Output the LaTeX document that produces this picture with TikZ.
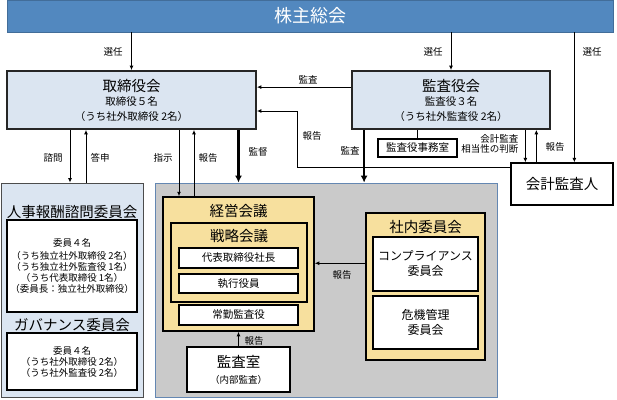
\documentclass[tikz,border=0pt]{standalone}
\usepackage{fontspec}
\setmainfont{Noto Sans CJK JP}
\usetikzlibrary{arrows.meta}
\definecolor{barblue}{RGB}{82,136,191}
\definecolor{boxblue}{RGB}{219,229,241}
\definecolor{boxyellow}{RGB}{247,224,158}
\definecolor{boxgray}{RGB}{202,202,202}
\definecolor{edgeblue}{RGB}{100,135,178}
\tikzset{
  >={Latex[length=4.5pt,width=4pt]},
  box/.style={rectangle, inner sep=0pt},
  bluebox/.style={box, draw=black!85, line width=1.8pt, fill=boxblue},
  iinbox/.style={box, draw=black!70, line width=0.8pt, fill=boxblue},
  whitebox/.style={box, draw=black, line width=1.3pt, fill=white},
  yellowbox/.style={box, draw=black, line width=1.5pt, fill=boxyellow},
  graybox/.style={box, draw=edgeblue, line width=0.8pt, fill=boxgray},
  titletext/.style={font=\fontsize{14.5}{17}\selectfont},
  midtext/.style={font=\fontsize{12}{15}\selectfont, align=center},
  subtext/.style={font=\fontsize{10.5}{12}\selectfont},
  tinytext/.style={font=\fontsize{9.5}{11}\selectfont, align=center},
  lbl/.style={font=\fontsize{9.5}{11}\selectfont, align=right},
  arr/.style={->, line width=1pt},
  thickarr/.style={-{Latex[length=7pt,width=7pt]}, line width=2.2pt},
}
\begin{document}
\begin{tikzpicture}[x=1pt,y=-1pt]
\useasboundingbox (0,0) rectangle (617,399);

% 株主総会
\node[box, fill=barblue, draw=barblue!80!black, line width=0.6pt,
      minimum width=606pt, minimum height=32pt,
      font=\fontsize{18}{20}\selectfont, text=white] (kabu) at (310,16) {株主総会};

% 取締役会・監査役会
\node[bluebox, minimum width=249pt, minimum height=58pt] (tori) at (131.5,100) {};
\node[titletext] (toriT) at ([yshift=-16pt]tori.north) {取締役会};
\node[subtext] (toriA) at ([yshift=-31pt]tori.north) {取締役５名};
\node[subtext] (toriB) at ([yshift=-46pt]tori.north) {（うち社外取締役 2名）};

\node[bluebox, minimum width=198pt, minimum height=58pt] (kansa) at (451,100) {};
\node[titletext] (kansaT) at ([yshift=-16pt]kansa.north) {監査役会};
\node[subtext] (kansaA) at ([yshift=-31pt]kansa.north) {監査役３名};
\node[subtext] (kansaB) at ([yshift=-46pt]kansa.north) {（うち社外監査役 2名）};

\node[whitebox, minimum width=79pt, minimum height=18pt, subtext] (jimu) at (417.5,148) {監査役事務室};
\node[whitebox, minimum width=102pt, minimum height=42pt, titletext] (kaikei) at (562,184) {会計監査人};

% 委員会（左）
\node[iinbox, minimum width=142pt, minimum height=214pt] (iinkai) at (72,290) {};
\node[titletext] (iinkaiT) at (72,212) {人事報酬諮問委員会};
\node[whitebox, minimum width=130pt, minimum height=92pt, tinytext] (jinji) at (72,266)
  {委員４名\\[1.5pt]（うち独立社外取締役 2名）\\（うち独立社外監査役 1名）\\（うち代表取締役 1名）\\（委員長：独立社外取締役）};
\node[titletext] (govT) at (72,325) {ガバナンス委員会};
\node[whitebox, minimum width=130pt, minimum height=57pt, tinytext] (gov) at (72,361.5)
  {委員４名\\（うち社外取締役 2名）\\（うち社外監査役 2名）};

% 業務執行
\node[graybox, minimum width=342pt, minimum height=214pt] (gyomu) at (326,290) {};
\node[yellowbox, minimum width=151pt, minimum height=134pt] (keiei) at (238.5,264) {};
\node[titletext] (keieiT) at ([yshift=-15pt]keiei.north) {経営会議};
\node[yellowbox, minimum width=136pt, minimum height=79pt] (senryaku) at (239,262.5) {};
\node[titletext] (senryakuT) at ([yshift=-14pt]senryaku.north) {戦略会議};
\node[whitebox, minimum width=119pt, minimum height=20pt, subtext] (shacho) at (238.5,258) {代表取締役社長};
\node[whitebox, minimum width=119pt, minimum height=19pt, subtext] (shikko) at (238.5,283.5) {執行役員};
\node[whitebox, minimum width=119pt, minimum height=20pt, subtext] (joukin) at (238.5,315) {常勤監査役};
\node[whitebox, minimum width=103pt, minimum height=45pt] (shitsu) at (238.5,369.5) {};
\node[titletext] (shitsuT) at (238.5,362) {監査室};
\node[tinytext] (shitsuA) at (238.5,380) {（内部監査）};

\node[yellowbox, minimum width=119pt, minimum height=147pt] (shanai) at (425.5,286.5) {};
\node[titletext] (shanaiT) at ([yshift=-15pt]shanai.north) {社内委員会};
\node[whitebox, minimum width=105pt, minimum height=54pt, midtext] (compl) at (425.5,264) {コンプライアンス\\委員会};
\node[whitebox, minimum width=105pt, minimum height=53pt, midtext] (kiki) at (425.5,322.5) {危機管理\\委員会};

% 選任
\draw[arr] (kabu.south -| tori.north) -- (tori.north);
\draw[arr] (kabu.south -| kansa.north) -- (kansa.north);
\draw[arr] ([xshift=64pt]kabu.south -| kaikei.north west) -- ([xshift=64pt]kaikei.north west);
\node[lbl] (sen1) at (113,52) {選任};
\node[lbl] (sen2) at (433,52) {選任};
\node[lbl] (sen3) at (592,52) {選任};

% 監査・報告（取締役会へ）
\draw[arr] ([yshift=-17pt]kansa.north west) -- ([yshift=-17pt]kansa.north west -| tori.east);
\node[lbl] (kansaL) at (308,80) {監査};
\draw[arr] ([yshift=-5pt]kaikei.north west) -- ++(-213,0) |- ([yshift=-11pt]tori.east);
\node[lbl] (hokoku1) at (312,136) {報告};

% 監査役会と会計監査人
\draw[line width=1pt] (kansa.south -| jimu.north) -- (jimu.north);
\draw[arr] ([xshift=15pt]kaikei.north west |- kansa.south) -- ([xshift=15pt]kaikei.north west);
\draw[arr] ([xshift=26pt]kaikei.north west) -- ([xshift=26pt]kaikei.north west |- kansa.south);
\node[lbl, anchor=east] (soto) at (522,143.5) {会計監査\\[-1pt]相当性の判断};
\node[lbl] (hokoku2) at (555,147) {報告};

% 監督・監査
\draw[thickarr] (tori.south -| keiei.north) -- (keiei.north |- gyomu.north);
\node[lbl] (kantoku) at (258,152) {監督};
\draw[thickarr] ([xshift=13pt]kansa.south west) -- ([xshift=13pt]kansa.south west |- gyomu.north);
\node[lbl] (kansa2) at (350,151) {監査};

% 諮問・答申
\draw[arr] ([xshift=-2pt]iinkai.north |- tori.south) -- ([xshift=-2pt]iinkai.north);
\draw[arr] ([xshift=14pt]iinkai.north) -- ([xshift=14pt]iinkai.north |- tori.south);
\node[lbl] (shimon) at (53,158) {諮問};
\node[lbl] (toshin) at (100,158) {答申};

% 指示・報告
\draw[arr] ([xshift=-59.5pt]keiei.north |- tori.south) -- ([xshift=-59.5pt]keiei.north);
\draw[arr] ([xshift=-44.5pt]keiei.north) -- ([xshift=-44.5pt]keiei.north |- tori.south);
\node[lbl] (shiji) at (163,158) {指示};
\node[lbl] (hokoku3) at (208,158) {報告};

% 社内の報告
\draw[arr] (shitsu.north) -- (shitsu.north |- keiei.south);
\node[lbl] (hokoku4) at (254,341) {報告};
\draw[arr] ([yshift=-51pt]shanai.north west) -- ([yshift=-51pt]shanai.north west -| keiei.east);
\node[lbl] (hokoku5) at (342,275) {報告};
\end{tikzpicture}
\end{document}
